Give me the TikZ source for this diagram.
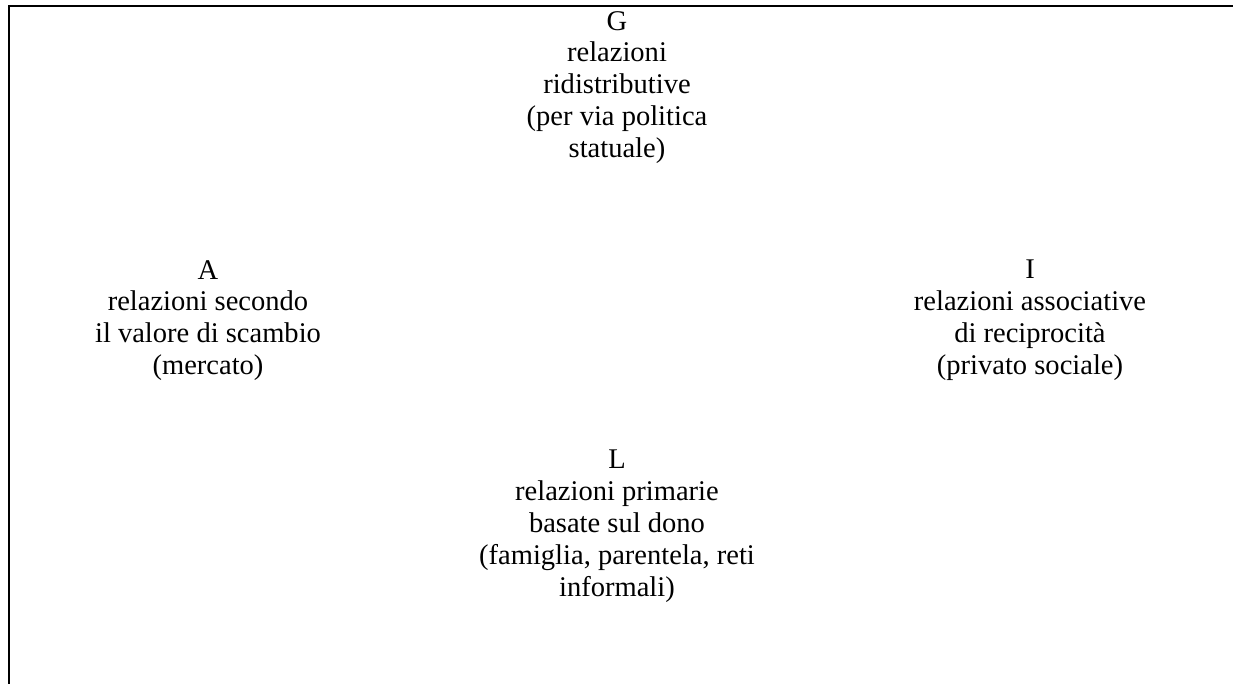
\documentclass[tikz,border=0pt]{standalone}
\usepackage{fontspec}
\setmainfont{Liberation Serif}
\begin{document}
\begin{tikzpicture}[x=0.75pt,y=-0.75pt,
  lbl/.style={align=center, inner sep=0pt, anchor=north, font=\fontsize{21.4}{23.85}\selectfont},
  frame/.style={line width=1.8pt, line join=miter}]
\useasboundingbox (0,0) rectangle (1233,683);
\coordinate (tr) at (1240,6);
\coordinate (tl) at (9,6);
\coordinate (bl) at (9,690);
\draw[frame] (tr) -- (tl) -- (bl);
\node[lbl] (G) at (617,11) {G\\relazioni\\ridistributive\\(per via politica\\statuale)};
\node[lbl] (A) at (208,260) {A\\relazioni secondo\\il valore di scambio\\(mercato)};
\node[lbl] (I) at (1030,260) {I\\relazioni associative\\di reciprocità\\(privato sociale)};
\node[lbl] (L) at (617,450) {L\\relazioni primarie\\basate sul dono\\(famiglia, parentela, reti\\informali)};
\end{tikzpicture}
\end{document}
